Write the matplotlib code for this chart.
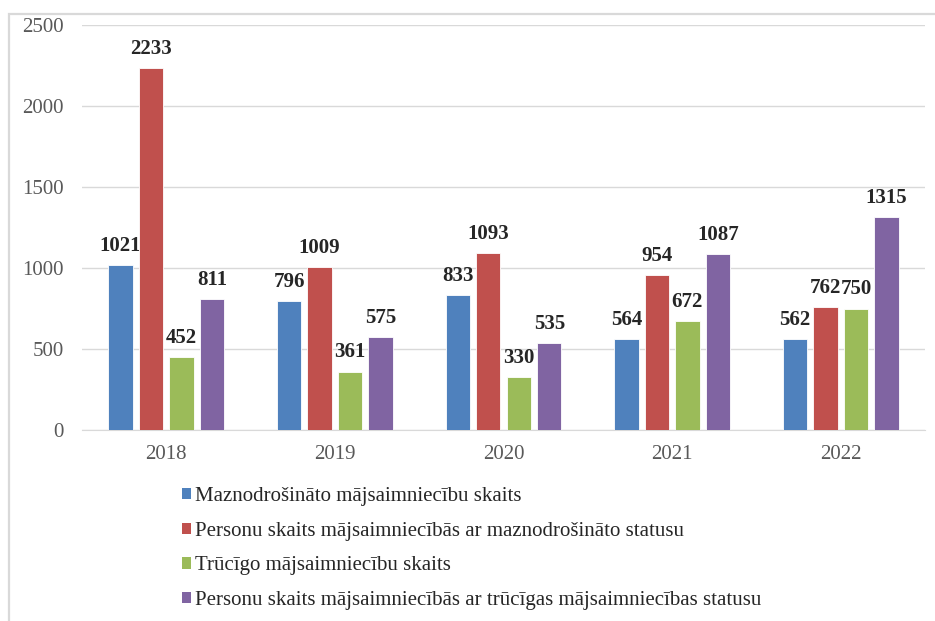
import numpy as np
import matplotlib
matplotlib.use("Agg")
import matplotlib.pyplot as plt
from matplotlib.patches import Patch, Rectangle

# data
years = ["2018", "2019", "2020", "2021", "2022"]
series_names = [
    "Maznodrošināto mājsaimniecību skaits",
    "Personu skaits mājsaimniecībās ar maznodrošināto statusu",
    "Trūcīgo mājsaimniecību skaits",
    "Personu skaits mājsaimniecībās ar trūcīgas mājsaimniecības statusu",
]
maznodr_majs = [1021, 796, 833, 564, 562]
maznodr_pers = [2233, 1009, 1093, 954, 762]
truc_majs = [452, 361, 330, 672, 750]
truc_pers = [811, 575, 535, 1087, 1315]
colors = ["#4F81BD", "#C0504D", "#9BBB59", "#8064A2"]

plt.rcParams['font.family'] = ['Liberation Serif', 'DejaVu Serif']

fig = plt.figure(figsize=(9.35, 6.21), dpi=100)
ax = fig.add_axes([82/935, 1-430/621, (925-82)/935, (430-25)/621])

# light frame round the chart area
fig.patches.append(Rectangle((8.5/935, -0.05), 1.2, 1-13.5/621+0.05,
                             transform=fig.transFigure, fill=False,
                             edgecolor="#D9D9D9", linewidth=1.6))

x = np.arange(len(years))
width = 0.145
step = 0.181
all_series = [maznodr_majs, maznodr_pers, truc_majs, truc_pers]
for i, vals in enumerate(all_series):
    pos = x + (i - 1.5) * step
    bars = ax.bar(pos, vals, width, color=colors[i], edgecolor="white",
                  linewidth=0.6, zorder=3)
    for b, v in zip(bars, vals):
        ax.annotate(str(v), (b.get_x() + b.get_width()/2, v),
                    xytext=(0, 6.5), textcoords="offset points",
                    ha="center", va="bottom", fontsize=15,
                    fontweight="bold", color="#262626")

ax.set_xlim(-0.5, len(years) - 0.5)
ax.set_ylim(0, 2500)
ax.set_yticks(range(0, 2501, 500))
ax.set_xticks(x)
ax.set_xticklabels(years)
ax.tick_params(axis="both", length=0, labelsize=15, colors="#595959")
ax.tick_params(axis="y", pad=13)
ax.tick_params(axis="x", pad=11)
ax.grid(axis="y", color="#D9D9D9", linewidth=1, zorder=0)
for s in ["top", "right", "left"]:
    ax.spines[s].set_visible(False)
ax.spines["bottom"].set_color("#D9D9D9")

handles = [Patch(facecolor=c) for c in colors]
fig.legend(handles, series_names, loc="upper left",
           bbox_to_anchor=(163/935, 1-468/621), frameon=False,
           fontsize=15, handlelength=0.45, handleheight=0.45,
           handletextpad=0.2, labelspacing=0.76, labelcolor="#262626")

fig.savefig("out.png", dpi=100)
